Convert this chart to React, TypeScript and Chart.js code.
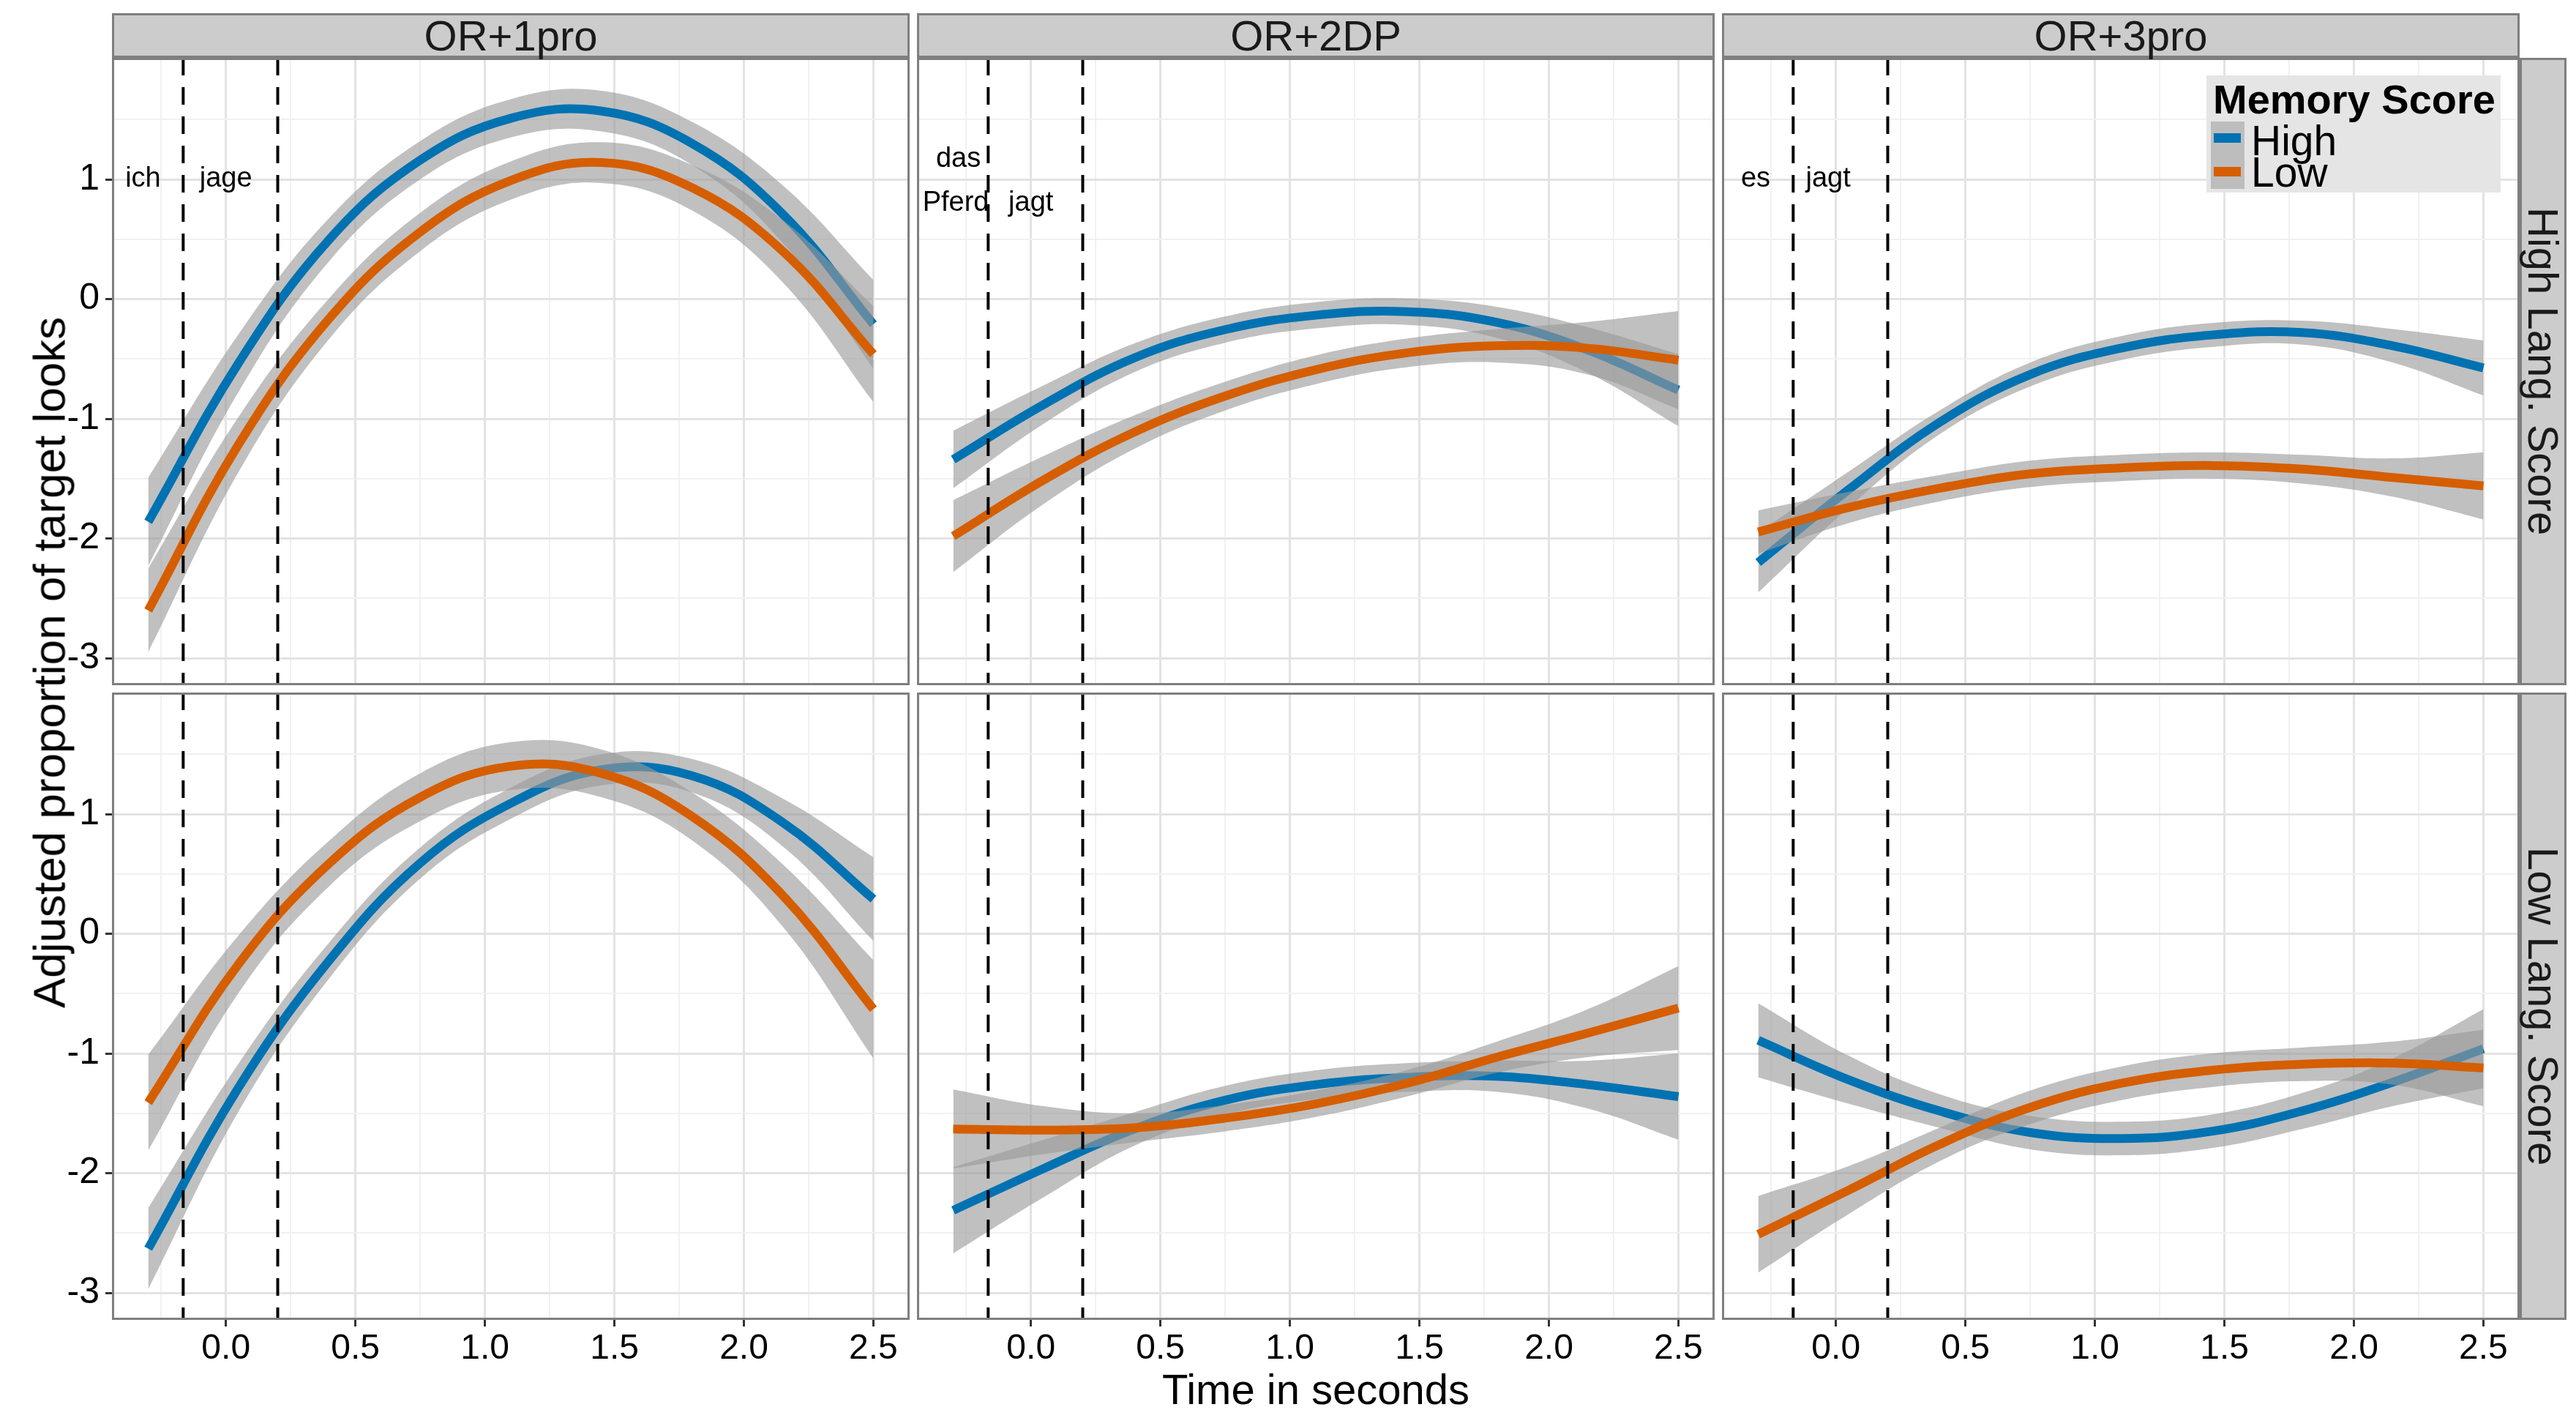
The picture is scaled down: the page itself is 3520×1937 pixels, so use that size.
import { useEffect, useRef } from 'react';
import { Chart, registerables } from 'chart.js';

Chart.register(...registerables);
Chart.defaults.font.family = "'Liberation Sans', Arial, sans-serif";

// --- data -----------------------------------------------------------------
const timePoints = [-0.3, 0.05, 0.4, 0.75, 1.1, 1.45, 1.8, 2.15, 2.5];
const conditions = ['OR+1pro', 'OR+2DP', 'OR+3pro'];
const langGroups = ['High Lang. Score', 'Low Lang. Score'];
const memoryGroups = ['High', 'Low'];

// High language score row
const hiLang1proHigh = [-1.86, -0.53, 0.5, 1.16, 1.51, 1.57, 1.3, 0.71, -0.21];
const hiLang1proHighSe = [0.37, 0.24, 0.18, 0.16, 0.16, 0.17, 0.18, 0.24, 0.37];
const hiLang1proLow = [-2.6, -1.21, -0.16, 0.56, 0.99, 1.14, 0.93, 0.4, -0.46];
const hiLang1proLowSe = [0.35, 0.23, 0.17, 0.16, 0.16, 0.17, 0.19, 0.26, 0.4];

const hiLang2DPHigh = [-1.34, -0.88, -0.49, -0.255, -0.135, -0.105, -0.195, -0.425, -0.76];
const hiLang2DPHighSe = [0.24, 0.16, 0.12, 0.11, 0.11, 0.11, 0.13, 0.19, 0.3];
const hiLang2DPLow = [-1.98, -1.51, -1.11, -0.81, -0.59, -0.45, -0.39, -0.41, -0.51];
const hiLang2DPLowSe = [0.3, 0.2, 0.14, 0.12, 0.12, 0.12, 0.14, 0.22, 0.41];

const hiLang3proHigh = [-2.2, -1.59, -1.03, -0.63, -0.41, -0.3, -0.28, -0.39, -0.575];
const hiLang3proHighSe = [0.25, 0.15, 0.1, 0.1, 0.1, 0.1, 0.1, 0.14, 0.23];
const hiLang3proLow = [-1.945, -1.74, -1.58, -1.46, -1.41, -1.39, -1.42, -1.49, -1.56];
const hiLang3proLowSe = [0.18, 0.13, 0.11, 0.11, 0.11, 0.11, 0.12, 0.16, 0.28];

// Low language score row
const loLang1proHigh = [-2.63, -1.28, -0.22, 0.59, 1.09, 1.37, 1.32, 0.93, 0.29];
const loLang1proHighSe = [0.34, 0.2, 0.15, 0.13, 0.13, 0.13, 0.14, 0.2, 0.35];
const loLang1proLow = [-1.41, -0.25, 0.59, 1.14, 1.4, 1.34, 0.98, 0.32, -0.63];
const loLang1proLowSe = [0.4, 0.24, 0.19, 0.2, 0.2, 0.2, 0.2, 0.26, 0.41];

const loLang2DPHigh = [-2.31, -1.96, -1.63, -1.39, -1.26, -1.2, -1.19, -1.26, -1.36];
const loLang2DPHighSe = [0.36, 0.24, 0.14, 0.12, 0.12, 0.12, 0.13, 0.2, 0.36];
const loLang2DPLow = [-1.63, -1.64, -1.62, -1.54, -1.42, -1.25, -1.03, -0.83, -0.62];
const loLang2DPLowSe = [0.33, 0.2, 0.12, 0.11, 0.11, 0.11, 0.13, 0.2, 0.35];

const loLang3proHigh = [-0.89, -1.22, -1.48, -1.66, -1.71, -1.65, -1.48, -1.24, -0.96];
const loLang3proHighSe = [0.31, 0.2, 0.14, 0.14, 0.14, 0.14, 0.15, 0.2, 0.33];
const loLang3proLow = [-2.51, -2.14, -1.76, -1.45, -1.25, -1.14, -1.09, -1.08, -1.12];
const loLang3proLowSe = [0.32, 0.2, 0.14, 0.14, 0.14, 0.14, 0.14, 0.18, 0.32];

// word onsets and word labels
const onsetLines = [-0.165, 0.2];
const words1pro = ['ich', 'jage'];
const words1proX = [-0.32, 0];
const words1proY = [1, 1];
const words2DP = ['das', 'Pferd', 'jagt'];
const words2DPX = [-0.28, -0.29, 0.0];
const words2DPY = [1.17, 0.8, 0.8];
const words3pro = ['es', 'jagt'];
const words3proX = [-0.31, -0.03];
const words3proY = [1, 1];

// axes
const xLimits = [-0.44, 2.64];
const yLimits = [-3.225, 2.015];
const xMajorTicks = [0, 0.5, 1, 1.5, 2, 2.5];
const xMinorTicks = [-0.25, 0.25, 0.75, 1.25, 1.75, 2.25];
const yMajorTicks = [-3, -2, -1, 0, 1];
const yMinorTicks = [-2.5, -1.5, -0.5, 0.5, 1.5];

// --- layout ---------------------------------------------------------------
const PLOT_L = [153, 1253, 2353];
const PLOT_T = [79, 946];
const PLOT_W = 1090;
const PLOT_H = 857;
const Y_AXIS_W = 80;
const X_AXIS_H = 80;
const STRIP = 64;

const BLUE = '#0072B2';
const ORANGE = '#D55E00';
const RIBBON = 'rgba(153,153,153,0.62)';
const FONT = "'Liberation Sans', Arial, sans-serif";

const panels = [
  { row: 0, col: 0, high: hiLang1proHigh, highSe: hiLang1proHighSe, low: hiLang1proLow, lowSe: hiLang1proLowSe, words: words1pro, wx: words1proX, wy: words1proY },
  { row: 0, col: 1, high: hiLang2DPHigh, highSe: hiLang2DPHighSe, low: hiLang2DPLow, lowSe: hiLang2DPLowSe, words: words2DP, wx: words2DPX, wy: words2DPY },
  { row: 0, col: 2, high: hiLang3proHigh, highSe: hiLang3proHighSe, low: hiLang3proLow, lowSe: hiLang3proLowSe, words: words3pro, wx: words3proX, wy: words3proY },
  { row: 1, col: 0, high: loLang1proHigh, highSe: loLang1proHighSe, low: loLang1proLow, lowSe: loLang1proLowSe, words: [], wx: [], wy: [] },
  { row: 1, col: 1, high: loLang2DPHigh, highSe: loLang2DPHighSe, low: loLang2DPLow, lowSe: loLang2DPLowSe, words: [], wx: [], wy: [] },
  { row: 1, col: 2, high: loLang3proHigh, highSe: loLang3proHighSe, low: loLang3proLow, lowSe: loLang3proLowSe, words: [], wx: [], wy: [] },
];

type PanelDef = (typeof panels)[number];

const pts = (ys: number[], se?: number[], sign = 0) =>
  timePoints.map((x, i) => ({ x, y: ys[i] + (se ? sign * se[i] : 0) }));

function seriesSets(label: string, color: string, ys: number[], se: number[]) {
  const common = { pointRadius: 0, tension: 0.4 };
  return [
    { ...common, label, data: pts(ys), borderColor: color, borderWidth: 12, fill: false },
    { ...common, label: label + ' lower', data: pts(ys, se, -1), borderColor: 'rgba(0,0,0,0)', borderWidth: 0, backgroundColor: RIBBON, fill: '+1' },
    { ...common, label: label + ' upper', data: pts(ys, se, 1), borderColor: 'rgba(0,0,0,0)', borderWidth: 0, fill: false },
  ];
}

function Panel({ p }: { p: PanelDef }) {
  const chartRef = useRef<HTMLCanvasElement>(null);
  const chartInstance = useRef<Chart | null>(null);
  const showY = p.col === 0;
  const showX = p.row === 1;
  const left = PLOT_L[p.col] - (showY ? Y_AXIS_W : 0);
  const width = PLOT_W + (showY ? Y_AXIS_W : 0);
  const height = PLOT_H + (showX ? X_AXIS_H : 0);

  useEffect(() => {
    if (!chartRef.current) return;
    if (chartInstance.current) chartInstance.current.destroy();
    const ctx = chartRef.current.getContext('2d');
    if (!ctx) return;

    const decor = {
      id: 'panelDecor',
      afterDatasetsDraw(chart: Chart) {
        const { ctx: c, chartArea: a, scales } = chart;
        c.save();
        // word onsets
        c.strokeStyle = '#000';
        c.lineWidth = 4;
        c.setLineDash([24, 16]);
        onsetLines.forEach((v) => {
          const px = scales.x.getPixelForValue(v);
          c.beginPath();
          c.moveTo(px, a.top);
          c.lineTo(px, a.bottom);
          c.stroke();
        });
        c.setLineDash([]);
        // word labels
        c.fillStyle = '#000';
        c.font = `38px ${FONT}`;
        c.textAlign = 'center';
        c.textBaseline = 'middle';
        p.words.forEach((w, i) => {
          c.fillText(w, scales.x.getPixelForValue(p.wx[i]), scales.y.getPixelForValue(p.wy[i]));
        });
        // panel border
        c.strokeStyle = '#7f7f7f';
        c.lineWidth = 3;
        c.strokeRect(a.left + 1.5, a.top + 1.5, a.width - 3, a.height - 3);
        c.restore();
      },
    };

    const gridColor = (major: number[]) => (cx: any) =>
      cx.tick && major.includes(cx.tick.value) ? '#e3e3e3' : '#f1f1f1';
    const gridWidth = (major: number[]) => (cx: any) =>
      cx.tick && major.includes(cx.tick.value) ? 3 : 2;
    const tickColor = (major: number[]) => (cx: any) =>
      cx.tick && major.includes(cx.tick.value) ? '#333' : 'rgba(0,0,0,0)';

    chartInstance.current = new Chart(ctx, {
      type: 'line',
      data: {
        datasets: [
          ...seriesSets(memoryGroups[1], ORANGE, p.low, p.lowSe),
          ...seriesSets(memoryGroups[0], BLUE, p.high, p.highSe),
        ] as any,
      },
      options: {
        animation: false,
        responsive: true,
        maintainAspectRatio: false,
        events: [],
        layout: { padding: 0 },
        plugins: { legend: { display: false }, tooltip: { enabled: false } },
        scales: {
          x: {
            type: 'linear',
            min: xLimits[0],
            max: xLimits[1],
            afterBuildTicks: (s: any) => {
              s.ticks = [...xMinorTicks, ...xMajorTicks].sort((a, b) => a - b).map((v) => ({ value: v }));
            },
            afterFit: (s: any) => {
              s.height = showX ? X_AXIS_H : 0;
              s.paddingLeft = 0;
              s.paddingRight = 0;
            },
            ticks: {
              display: showX,
              autoSkip: false,
              maxRotation: 0,
              minRotation: 0,
              padding: 2,
              color: '#000',
              font: { size: 48 },
              callback: (v: any) => (xMajorTicks.includes(v) ? Number(v).toFixed(1) : ''),
            },
            grid: {
              color: gridColor(xMajorTicks),
              lineWidth: gridWidth(xMajorTicks),
              drawTicks: showX,
              tickLength: 9,
              tickColor: tickColor(xMajorTicks),
              tickWidth: 3,
            },
            border: { display: false },
          },
          y: {
            type: 'linear',
            min: yLimits[0],
            max: yLimits[1],
            afterBuildTicks: (s: any) => {
              s.ticks = [...yMinorTicks, ...yMajorTicks].sort((a, b) => a - b).map((v) => ({ value: v }));
            },
            afterFit: (s: any) => {
              s.width = showY ? Y_AXIS_W : 0;
              s.paddingTop = 0;
              s.paddingBottom = 0;
            },
            ticks: {
              display: showY,
              autoSkip: false,
              padding: 8,
              color: '#000',
              font: { size: 50 },
              callback: (v: any) => (yMajorTicks.includes(v) ? String(v) : ''),
            },
            grid: {
              color: gridColor(yMajorTicks),
              lineWidth: gridWidth(yMajorTicks),
              drawTicks: showY,
              tickLength: 9,
              tickColor: tickColor(yMajorTicks),
              tickWidth: 3,
            },
            border: { display: false },
          },
        },
      } as any,
      plugins: [decor],
    });

    return () => {
      if (chartInstance.current) {
        chartInstance.current.destroy();
        chartInstance.current = null;
      }
    };
  }, [p]);

  return (
    <div style={{ position: 'absolute', left, top: PLOT_T[p.row], width, height }}>
      <canvas ref={chartRef} />
    </div>
  );
}

const stripStyle = {
  position: 'absolute' as const,
  boxSizing: 'border-box' as const,
  background: '#cccccc',
  border: '3px solid #7f7f7f',
  color: '#1a1a1a',
  fontSize: 58,
  display: 'flex',
  alignItems: 'center',
  justifyContent: 'center',
  whiteSpace: 'nowrap' as const,
};

export default function App() {
  return (
    <div
      style={{
        position: 'absolute',
        left: 0,
        top: 0,
        width: 3520,
        height: 1937,
        background: '#fff',
        overflow: 'hidden',
        fontFamily: FONT,
      }}
    >
      {panels.map((p) => (
        <Panel key={`${p.row}-${p.col}`} p={p} />
      ))}

      {conditions.map((c, i) => (
        <div key={c} style={{ ...stripStyle, left: PLOT_L[i], top: 18, width: PLOT_W, height: 61 }}>
          {c}
        </div>
      ))}

      {langGroups.map((g, i) => (
        <div
          key={g}
          style={{
            ...stripStyle,
            left: PLOT_L[2] + PLOT_W,
            top: PLOT_T[i],
            width: STRIP,
            height: PLOT_H,
            writingMode: 'vertical-rl',
          }}
        >
          {g}
        </div>
      ))}

      <div
        style={{
          position: 'absolute',
          left: 67,
          top: 905,
          transform: 'translate(-50%, -50%) rotate(-90deg)',
          whiteSpace: 'nowrap',
          fontSize: 62,
          color: '#000',
        }}
      >
        Adjusted proportion of target looks
      </div>
      <div
        style={{
          position: 'absolute',
          left: 1798,
          top: 1897,
          transform: 'translate(-50%, -50%)',
          whiteSpace: 'nowrap',
          fontSize: 58,
          color: '#000',
        }}
      >
        Time in seconds
      </div>

      <div style={{ position: 'absolute', left: 3015, top: 103, width: 402, height: 160, background: '#e5e5e5' }}>
        <div style={{ position: 'absolute', left: 9, top: 5, fontSize: 56, lineHeight: '56px', fontWeight: 'bold', whiteSpace: 'nowrap' }}>
          Memory Score
        </div>
        {memoryGroups.map((m, i) => (
          <div key={m}>
            <div style={{ position: 'absolute', left: 6, top: 63 + i * 46, width: 46, height: 46, background: '#bdbdbd' }}>
              <div
                style={{
                  position: 'absolute',
                  left: 4,
                  top: 16,
                  width: 37,
                  height: 13,
                  background: i === 0 ? BLUE : ORANGE,
                }}
              />
            </div>
            <div style={{ position: 'absolute', left: 61, top: 66 + i * 43, fontSize: 57, lineHeight: '46px', whiteSpace: 'nowrap' }}>
              {m}
            </div>
          </div>
        ))}
      </div>
    </div>
  );
}
